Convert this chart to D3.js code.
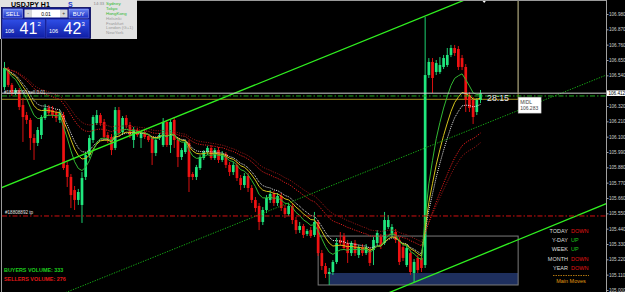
<!DOCTYPE html>
<html>
<head>
<meta charset="utf-8">
<script src="https://cdn.jsdelivr.net/npm/d3@7"></script>
<style>
 body{margin:0;background:#000;overflow:hidden}
 svg{display:block;font-family:"Liberation Sans",Arial,sans-serif}
</style>
</head>
<body>
<div id="chartDiv"></div>
<script>
//Candle data, USDJPY H1, oldest first
var opens = [106.456,106.578,106.471,106.413,106.435,106.327,106.255,106.220,106.090,106.055,
 106.112,106.234,106.306,106.291,106.270,106.220,106.255,105.897,105.811,105.717,
 105.646,105.610,105.811,105.968,106.076,106.198,106.255,106.205,106.112,106.098,
 106.019,106.291,106.133,106.234,106.184,106.076,106.148,106.090,106.133,106.105,
 106.090,105.983,106.090,106.040,106.205,106.040,106.220,106.076,105.954,105.990,
 106.055,105.832,105.811,105.875,105.947,105.990,106.019,105.947,106.004,105.933,
 105.976,105.897,105.846,105.897,105.803,105.753,105.818,105.732,105.646,105.603,
 105.488,105.574,105.646,105.689,105.624,105.674,105.588,105.545,105.603,105.502,
 105.430,105.459,105.402,105.430,105.395,105.488,105.265,105.172,105.115,105.129,
 105.201,105.359,105.387,105.337,105.265,105.337,105.251,105.308,105.265,105.287,
 105.287,105.337,105.380,105.337,105.452,105.395,105.416,105.359,105.308,105.179,
 105.265,105.122,105.230,105.230,105.179,106.542,106.636,106.564,106.564,106.600,
 106.614,106.686,106.736,106.729,106.664,106.600,106.399,106.363,106.277,106.363];
var highs = [106.636,106.600,106.485,106.449,106.449,106.377,106.277,106.234,106.119,106.169,
 106.255,106.334,106.327,106.320,106.291,106.291,106.277,105.918,105.832,105.746,
 105.725,105.846,105.990,106.112,106.255,106.291,106.270,106.227,106.133,106.119,
 106.313,106.313,106.248,106.255,106.205,106.169,106.162,106.141,106.148,106.119,
 106.105,106.098,106.126,106.234,106.220,106.220,106.241,106.098,106.019,106.076,
 106.076,105.846,105.897,105.968,106.004,106.033,106.040,106.019,106.026,105.997,
 105.990,105.918,105.918,105.918,105.825,105.839,105.839,105.753,105.667,105.624,
 105.595,105.681,105.717,105.710,105.696,105.696,105.610,105.624,105.624,105.524,
 105.488,105.473,105.438,105.452,105.560,105.502,105.287,105.194,105.158,105.215,
 105.373,105.416,105.409,105.359,105.351,105.359,105.323,105.330,105.330,105.308,
 105.380,105.430,105.402,105.560,105.538,105.473,105.438,105.380,105.330,105.323,
 105.287,105.222,105.251,105.251,106.958,106.664,106.664,106.650,106.671,106.686,
 106.736,106.758,106.758,106.750,106.686,106.621,106.420,106.385,106.377,106.435];
var lows = [106.435,106.456,106.392,106.399,106.291,106.062,106.191,106.004,105.933,106.033,
 106.083,106.220,106.248,106.234,106.205,106.198,105.861,105.739,105.588,105.574,
 105.610,105.481,105.789,105.947,106.055,106.184,106.177,106.076,106.055,105.968,
 106.004,106.105,106.112,106.162,106.090,106.019,106.098,106.019,106.083,106.062,
 105.897,105.961,106.076,106.026,106.026,105.983,106.019,105.882,105.933,105.976,
 105.703,105.789,105.789,105.861,105.933,105.968,105.933,105.933,105.911,105.918,
 105.875,105.818,105.825,105.782,105.717,105.732,105.703,105.624,105.560,105.430,
 105.466,105.552,105.624,105.603,105.603,105.567,105.517,105.531,105.473,105.402,
 105.409,105.373,105.387,105.373,105.380,105.244,105.143,105.086,105.036,105.108,
 105.186,105.316,105.287,105.194,105.244,105.244,105.230,105.244,105.251,105.172,
 105.179,105.323,105.294,105.323,105.438,105.380,105.337,105.179,105.208,105.165,
 105.108,105.057,105.122,105.129,105.158,106.521,106.413,106.542,106.550,106.585,
 106.600,106.671,106.679,106.578,106.578,106.277,106.277,106.191,106.255,106.341];
var closes = [106.593,106.471,106.413,106.435,106.313,106.241,106.220,106.090,106.055,106.148,
 106.241,106.306,106.270,106.255,106.234,106.270,105.875,105.811,105.681,105.646,
 105.703,105.803,105.968,106.090,106.241,106.255,106.198,106.098,106.076,106.004,
 106.291,106.126,106.234,106.184,106.112,106.148,106.112,106.126,106.098,106.076,
 105.983,106.076,106.112,106.205,106.040,106.205,106.076,105.954,106.004,106.062,
 105.811,105.811,105.882,105.954,105.990,106.019,105.947,106.004,105.933,105.976,
 105.897,105.846,105.897,105.803,105.753,105.818,105.732,105.646,105.588,105.488,
 105.574,105.660,105.689,105.624,105.674,105.588,105.545,105.603,105.502,105.430,
 105.459,105.395,105.423,105.387,105.488,105.265,105.172,105.115,105.129,105.201,
 105.337,105.337,105.301,105.265,105.337,105.265,105.308,105.265,105.308,105.194,
 105.359,105.409,105.316,105.502,105.502,105.452,105.359,105.201,105.230,105.301,
 105.129,105.201,105.143,105.158,106.542,106.636,106.521,106.628,106.614,106.664,
 106.686,106.736,106.700,106.600,106.600,106.363,106.306,106.241,106.363,106.412];

//Price axis labels (106.430 is hidden behind the bid label)
var yTicks = [106.980,106.870,106.760,106.650,106.540,106.320,106.210,106.100,105.990,
 105.880,105.770,105.660,105.550,105.440,105.330,105.220,105.110,105.000];

//Chart objects: [bar index, price]
var trendUpper = [[0,105.743],[120,107.030]];
var trendLower = [[109,105.033],[129,105.250]];
var trendMiddle = [[20,105.018],[129,106.179]];
var bidPrice = 106.412, orderPrice = 106.392, tpPrice = 105.531, midlPrice = 106.283;
var orderLabel = "#18180090 sell 0.01", tpLabel = "#18808892 tp";
var oliveBox = [[-5,106.368],[139.2,107.20]];
var rangeBox = [[85,105.387],[139.2,105.036]];
var rangeFill = [[88.2,105.122],[139.2,105.036]];
var timeLeft = "28:15";

//Moving averages: period, colour, dash
var maDefs = [
 {p:34, c:"#8e1414", dash:"1.2,1.2"},
 {p:28, c:"#e01c1c", dash:"1.2,1.2"},
 {p:15, c:"#e6e6e6", dash:"1,1"},
 {p:12, c:"#d2c21c", dash:null},
 {p:8,  c:"#32b832", dash:null}];

//Trade panel and info texts
var symbolTitle = "USDJPY  H1";
var bidQuote = ["106","41","2"], askQuote = ["106","42","3"], lotSize = "0.01";
var sessionNames = ["Sydney","Tokyo","HongKong","Helsinki","Frankfurt","London (G+1)","NewYork"];
var sessionOpen = [true,true,true,false,false,false,false];
var sessionTime = "14:33";
var trendLabels = ["TODAY","Y-DAY","WEEK","MONTH","YEAR"];
var trendStates = ["DOWN","UP","UP","DOWN","DOWN"];
var buyersVolume = 333, sellersVolume = 276;

var W = 625, H = 292, axisX = 606;
var svg, plot, xScale, yScale;

function ema(src, period){			//Exponential moving average of closes
 var k = 2/(period+1), prev = src[0];
 return src.map(function(v,i){ prev = i ? prev + (v-prev)*k : v; return prev; });
}

function rayPoints(pts){			//Extend a trendline across the plot
 var s = (pts[1][1]-pts[0][1])/(pts[1][0]-pts[0][0]);
 return [[-5, pts[0][1] + s*(-5-pts[0][0])], [170, pts[0][1] + s*(170-pts[0][0])]];
}

function buildChart(){
 svg = d3.select("#chartDiv").append("svg").attr("width",W).attr("height",H);
 svg.append("rect").attr("width",W).attr("height",H).attr("fill","#000");

 var defs = svg.append("defs");
 defs.append("clipPath").attr("id","plotClip")
  .append("rect").attr("x",2).attr("y",0).attr("width",axisX-2).attr("height",H);
 var g1 = defs.append("linearGradient").attr("id","btnGrad").attr("x1",0).attr("y1",0).attr("x2",0).attr("y2",1);
 g1.append("stop").attr("offset","0%").attr("stop-color","#6a86f4");
 g1.append("stop").attr("offset","100%").attr("stop-color","#1a2ec4");
 var g2 = defs.append("linearGradient").attr("id","boxGrad").attr("x1",0).attr("y1",0).attr("x2",0).attr("y2",1);
 g2.append("stop").attr("offset","0%").attr("stop-color","#2f4ee6");
 g2.append("stop").attr("offset","100%").attr("stop-color","#101fa6");

 xScale = d3.scaleLinear().domain([0, closes.length-1]).range([4.5, 480.5]);
 yScale = d3.scaleLinear().domain([105.000, 106.980]).range([290, 14]);

 plot = svg.append("g").attr("clip-path","url(#plotClip)");

 //Range boxes behind the candles
 plot.append("rect")
  .attr("x",xScale(rangeFill[0][0])).attr("y",yScale(rangeFill[0][1]))
  .attr("width",xScale(rangeFill[1][0])-xScale(rangeFill[0][0]))
  .attr("height",yScale(rangeFill[1][1])-yScale(rangeFill[0][1]))
  .attr("fill","#1e2f5e");
 plot.append("rect")
  .attr("x",xScale(rangeBox[0][0])).attr("y",yScale(rangeBox[0][1]))
  .attr("width",xScale(rangeBox[1][0])-xScale(rangeBox[0][0]))
  .attr("height",yScale(rangeBox[1][1])-yScale(rangeBox[0][1]))
  .attr("fill","none").attr("stroke","#7a7a7a").attr("stroke-width",1);
 plot.append("rect")
  .attr("x",xScale(oliveBox[0][0])).attr("y",yScale(oliveBox[1][1]))
  .attr("width",xScale(oliveBox[1][0])-xScale(oliveBox[0][0]))
  .attr("height",yScale(oliveBox[0][1])-yScale(oliveBox[1][1]))
  .attr("fill","none").attr("stroke","#9c8a1e").attr("stroke-width",1);

 //Candles
 var idx = d3.range(closes.length);
 var col = function(i){ return closes[i] >= opens[i] ? "#1fe87e" : "#f01212"; };
 plot.selectAll(".wick").data(idx).enter().append("line")
  .attr("class","wick")
  .attr("x1",function(i){ return xScale(i); }).attr("x2",function(i){ return xScale(i); })
  .attr("y1",function(i){ return yScale(highs[i]); }).attr("y2",function(i){ return yScale(lows[i]); })
  .attr("stroke",col).attr("stroke-width",0.9);
 plot.selectAll(".body").data(idx).enter().append("rect")
  .attr("class","body")
  .attr("x",function(i){ return xScale(i)-1.35; })
  .attr("width",2.7)
  .attr("y",function(i){ return yScale(Math.max(opens[i],closes[i])); })
  .attr("height",function(i){ return Math.max(1, Math.abs(yScale(opens[i])-yScale(closes[i]))); })
  .attr("fill",col);

 //Moving averages
 maDefs.forEach(function(m){
  var vals = ema(closes, m.p);
  var line = d3.line().x(function(d,i){ return xScale(i); }).y(function(d){ return yScale(d); });
  plot.append("path").datum(vals)
   .attr("d",line).attr("fill","none")
   .attr("stroke",m.c).attr("stroke-width",1)
   .attr("stroke-dasharray",m.dash);
 });

 //Channel lines
 var tl = d3.line().x(function(d){ return xScale(d[0]); }).y(function(d){ return yScale(d[1]); });
 plot.append("path").datum(rayPoints(trendMiddle)).attr("d",tl)
  .attr("stroke","#14a814").attr("stroke-width",1).attr("stroke-dasharray","1.3,1.3").attr("fill","none");
 plot.append("path").datum(rayPoints(trendUpper)).attr("d",tl)
  .attr("stroke","#30f020").attr("stroke-width",1.3).attr("fill","none");
 plot.append("path").datum(rayPoints(trendLower)).attr("d",tl)
  .attr("stroke","#30f020").attr("stroke-width",1.3).attr("fill","none");

 //Horizontal price lines
 plot.append("line").attr("x1",2).attr("x2",axisX)
  .attr("y1",yScale(bidPrice)).attr("y2",yScale(bidPrice))
  .attr("stroke","#cfcfcf").attr("stroke-width",1);
 plot.append("line").attr("x1",2).attr("x2",axisX)
  .attr("y1",yScale(orderPrice)).attr("y2",yScale(orderPrice))
  .attr("stroke","#1fae1f").attr("stroke-width",1).attr("stroke-dasharray","5,2,1.5,2");
 plot.append("line").attr("x1",2).attr("x2",axisX)
  .attr("y1",yScale(tpPrice)).attr("y2",yScale(tpPrice))
  .attr("stroke","#d01010").attr("stroke-width",1).attr("stroke-dasharray","5,2,1.5,2");
 plot.append("text").attr("x",4).attr("y",yScale(orderPrice)-2)
  .attr("fill","#e0e0e0").style("font-size","4.6px").text(orderLabel);
 plot.append("text").attr("x",5).attr("y",yScale(tpPrice)-2)
  .attr("fill","#e0e0e0").style("font-size","4.6px").text(tpLabel);

 //Small arrow mark at the top
 plot.append("path")
  .attr("d","M"+(xScale(130)-2)+",0.5 h4 l-2,2.5 z").attr("fill","#fff");

 //Countdown and MIDL tag
 plot.append("text").attr("x",xScale(129)+6.5).attr("y",yScale(bidPrice)+8)
  .attr("fill","#e8e8e8").style("font-size","8.8px").text(timeLeft);
 var mx = xScale(139.2);
 plot.append("rect").attr("x",mx).attr("y",yScale(midlPrice)-14).attr("width",23).attr("height",16)
  .attr("fill","#fff").attr("stroke","#999").attr("stroke-width",0.5);
 plot.append("text").attr("x",mx+2).attr("y",yScale(midlPrice)-7).attr("fill","#444")
  .style("font-size","5px").text("MIDL");
 plot.append("text").attr("x",mx+2).attr("y",yScale(midlPrice)-1).attr("fill","#444")
  .style("font-size","5px").text(midlPrice.toFixed(3));

 //Frame lines
 svg.append("line").attr("x1",1.5).attr("x2",1.5).attr("y1",0).attr("y2",H)
  .attr("stroke","#9a9a9a").attr("stroke-width",1);
 svg.append("line").attr("x1",1.5).attr("x2",axisX).attr("y1",0.5).attr("y2",0.5)
  .attr("stroke","#9a9a9a").attr("stroke-width",1);
 svg.append("line").attr("x1",mx).attr("x2",mx).attr("y1",0).attr("y2",yScale(bidPrice))
  .attr("stroke","#8a8a8a").attr("stroke-width",1);
 svg.append("line").attr("x1",axisX+0.5).attr("x2",axisX+0.5).attr("y1",0).attr("y2",H)
  .attr("stroke","#a0a0a0").attr("stroke-width",1);

 //Price axis
 var ya = svg.append("g").attr("transform","translate("+(axisX+0.5)+",0)")
  .call(d3.axisRight(yScale).tickValues(yTicks).tickSize(2).tickSizeOuter(0)
   .tickFormat(d3.format(".3f")));
 ya.select(".domain").remove();
 ya.selectAll("line").attr("stroke","#a0a0a0");
 ya.selectAll("text").attr("fill","#d0d0d0").attr("x",2.5)
  .style("font-size","4.6px").style("font-family","Liberation Sans, Arial, sans-serif");
 svg.append("rect").attr("x",axisX+1).attr("y",yScale(bidPrice)-2.8).attr("width",18).attr("height",5.6)
  .attr("fill","#fff");
 svg.append("text").attr("x",axisX+2.5).attr("y",yScale(bidPrice)+1.7).attr("fill","#000")
  .style("font-size","4.6px").text(bidPrice.toFixed(3));
}

function drawPanel(){				//Trade panel, top left
 var p = svg.append("g");
 p.append("rect").attr("x",0).attr("y",0).attr("width",137).attr("height",39).attr("fill","#e2e2e2");
 p.append("text").attr("x",11).attr("y",7).attr("fill","#000").style("font-size","7px")
  .style("font-weight","bold").text(symbolTitle);
 p.append("text").attr("x",68).attr("y",7).attr("fill","#1a3ad0").style("font-size","7px")
  .style("font-weight","bold").text("S");
 p.append("rect").attr("x",1.5).attr("y",7.5).attr("width",89).attr("height",31)
  .attr("fill","#0d168c").attr("stroke","#05085a").attr("stroke-width",0.8);
 [[3,"SELL"],[69,"BUY"]].forEach(function(b){
  p.append("rect").attr("x",b[0]).attr("y",9).attr("width",19.5).attr("height",9)
   .attr("fill","url(#btnGrad)").attr("stroke","#c8d0ff").attr("stroke-width",0.4);
  p.append("text").attr("x",b[0]+9.75).attr("y",15.8).attr("text-anchor","middle")
   .attr("fill","#fff").style("font-size","5.8px").text(b[1]);
 });
 p.append("rect").attr("x",24.5).attr("y",9.5).attr("width",7.5).attr("height",8).attr("fill","#d8d8d8");
 p.append("rect").attr("x",32).attr("y",9.5).attr("width",28).attr("height",8).attr("fill","#fff");
 p.append("rect").attr("x",60).attr("y",9.5).attr("width",7.5).attr("height",8).attr("fill","#d8d8d8");
 p.append("text").attr("x",28.2).attr("y",15.3).attr("text-anchor","middle").attr("fill","#333")
  .style("font-size","5px").text("-");
 p.append("text").attr("x",63.8).attr("y",15.3).attr("text-anchor","middle").attr("fill","#333")
  .style("font-size","5px").text("+");
 p.append("text").attr("x",46).attr("y",15.5).attr("text-anchor","middle").attr("fill","#000")
  .style("font-size","5px").text(lotSize);
 [[2.5,bidQuote],[46.5,askQuote]].forEach(function(b){
  p.append("rect").attr("x",b[0]).attr("y",19.5).attr("width",42.5).attr("height",18)
   .attr("fill","url(#boxGrad)").attr("stroke","#3848c8").attr("stroke-width",0.5);
  p.append("text").attr("x",b[0]+2.5).attr("y",32.5).attr("fill","#fff").style("font-size","5.5px").text(b[1][0]);
  p.append("text").attr("x",b[0]+17).attr("y",33.6).attr("fill","#fff").style("font-size","16px").text(b[1][1]);
  p.append("text").attr("x",b[0]+35).attr("y",25.5).attr("fill","#fff").style("font-size","6px").text(b[1][2]);
 });
 p.append("text").attr("x",93.5).attr("y",5.2).attr("fill","#8a8a8a").style("font-size","4.3px").text(sessionTime);
 sessionNames.forEach(function(s,i){
  p.append("text").attr("x",106).attr("y",5.3+i*4.8)
   .attr("fill",sessionOpen[i] ? "#2eb82e" : "#9a9a9a").style("font-size","4.4px").text(s);
 });
}

function drawInfo(){				//Volume and trend readouts
 svg.append("text").attr("x",4).attr("y",271.5).attr("fill","#1ecc1e").style("font-size","5.4px")
  .style("font-weight","bold").text("BUYERS VOLUME: " + buyersVolume);
 svg.append("text").attr("x",4).attr("y",281).attr("fill","#e01818").style("font-size","5.4px")
  .style("font-weight","bold").text("SELLERS VOLUME: " + sellersVolume);
 trendLabels.forEach(function(t,i){
  svg.append("text").attr("x",568).attr("y",233+i*9.2).attr("text-anchor","end")
   .attr("fill","#dcdcdc").style("font-size","5.5px").text(t);
  svg.append("text").attr("x",571).attr("y",233+i*9.2)
   .attr("fill",trendStates[i]=="UP" ? "#1ec81e" : "#e01414").style("font-size","5.5px").text(trendStates[i]);
 });
 svg.append("line").attr("x1",553).attr("x2",589).attr("y1",275.5).attr("y2",275.5)
  .attr("stroke","#d89010").attr("stroke-width",0.8).attr("stroke-dasharray","1.5,1");
 svg.append("text").attr("x",571).attr("y",282.5).attr("text-anchor","middle")
  .attr("fill","#e09a10").style("font-size","5.5px").text("Main Moves");
}

buildChart();
drawPanel();
drawInfo();
</script>
</body>
</html>
